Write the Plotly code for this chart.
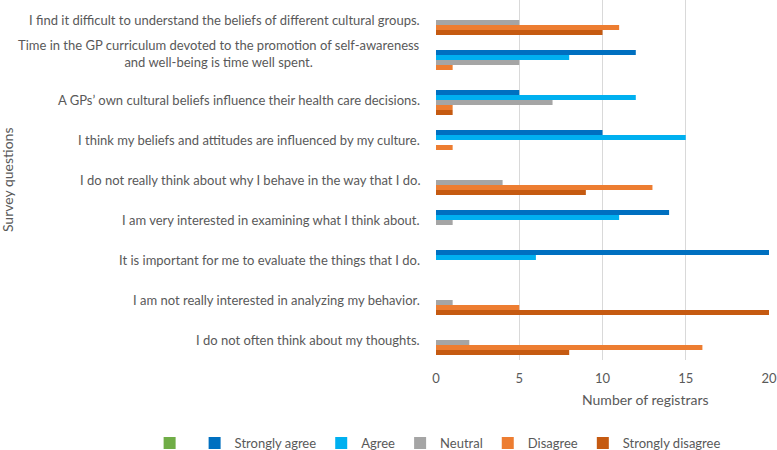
import plotly.graph_objects as go

questions = [
    "I find it difficult to understand the beliefs of different cultural groups.",
    "Time in the GP curriculum devoted to the promotion of self-awareness<br>and well-being is time well spent.",
    "A GPs’ own cultural beliefs influence their health care decisions.",
    "I think my beliefs and attitudes are influenced by my culture.",
    "I do not really think about why I behave in the way that I do.",
    "I am very interested in examining what I think about.",
    "It is important for me to evaluate the things that I do.",
    "I am not really interested in analyzing my behavior.",
    "I do not often think about my thoughts.",
]

series_names = ["", "Strongly agree", "Agree", "Neutral", "Disagree", "Strongly disagree"]
blank = [0, 0, 0, 0, 0, 0, 0, 0, 0]
strongly_agree = [0, 12, 5, 10, 0, 14, 20, 0, 0]
agree = [0, 8, 12, 15, 0, 11, 6, 0, 0]
neutral = [5, 5, 7, 0, 4, 1, 0, 1, 2]
disagree = [11, 1, 1, 1, 13, 0, 0, 5, 16]
strongly_disagree = [10, 0, 1, 0, 9, 0, 0, 20, 8]
x_ticks = [0, 5, 10, 15, 20]

series_values = [blank, strongly_agree, agree, neutral, disagree, strongly_disagree]
colors = ["#70AD47", "#0070C0", "#00B0F0", "#A5A5A5", "#ED7D31", "#C55A11"]

FONT = "Lato"
GREY = "#595959"

fig = go.Figure()
for name, vals, col in zip(series_names, series_values, colors):
    fig.add_trace(go.Bar(
        y=questions, x=vals, name=name, orientation="h",
        marker=dict(color=col, line=dict(width=0)),
        hoverinfo="x+name",
    ))

for q in questions:
    fig.add_annotation(
        x=0, xref="paper", y=q, yref="y", text=q, showarrow=False,
        xanchor="right", xshift=-14, yshift=7 if "<br>" in q else 0,
        align="center",
        font=dict(family=FONT, size=13, color=GREY),
    )

fig.add_annotation(
    x=-1.288, xref="paper", y=0.5, yref="paper", text="Survey questions",
    textangle=-90, showarrow=False, xanchor="center", yanchor="middle",
    font=dict(family=FONT, size=14, color=GREY),
)
fig.add_annotation(
    x=0.628, xref="paper", y=-0.111, yref="paper", text="Number of registrars",
    showarrow=False, xanchor="center", yanchor="middle",
    font=dict(family=FONT, size=14, color=GREY),
)

fig.update_layout(
    width=777, height=450,
    margin=dict(l=436, r=8, t=0, b=90, autoexpand=False),
    barmode="group", bargap=0.25, bargroupgap=0,
    plot_bgcolor="white", paper_bgcolor="white",
    font=dict(family=FONT, size=13, color=GREY),
    showlegend=True,
    legend=dict(
        orientation="h", x=-0.86, xanchor="left", y=-0.2306, yanchor="middle",
        traceorder="normal", font=dict(family=FONT, size=13, color=GREY),
        itemwidth=30, tracegroupgap=0,
    ),
    xaxis=dict(
        range=[0, 20], tickvals=x_ticks, showgrid=True, gridcolor="#D9D9D9",
        gridwidth=1, zeroline=False, showline=False, ticks="",
        ticklabeloverflow="allow", ticklabelstandoff=9,
        tickfont=dict(family=FONT, size=13, color=GREY),
    ),
    yaxis=dict(
        categoryorder="array", categoryarray=questions, autorange="reversed",
        showticklabels=False, showgrid=False, zeroline=False, showline=False, ticks="",
    ),
)

fig.write_html(
    "out.html",
    config={"displayModeBar": False},
    post_script="document.body.style.margin='0';",
)
